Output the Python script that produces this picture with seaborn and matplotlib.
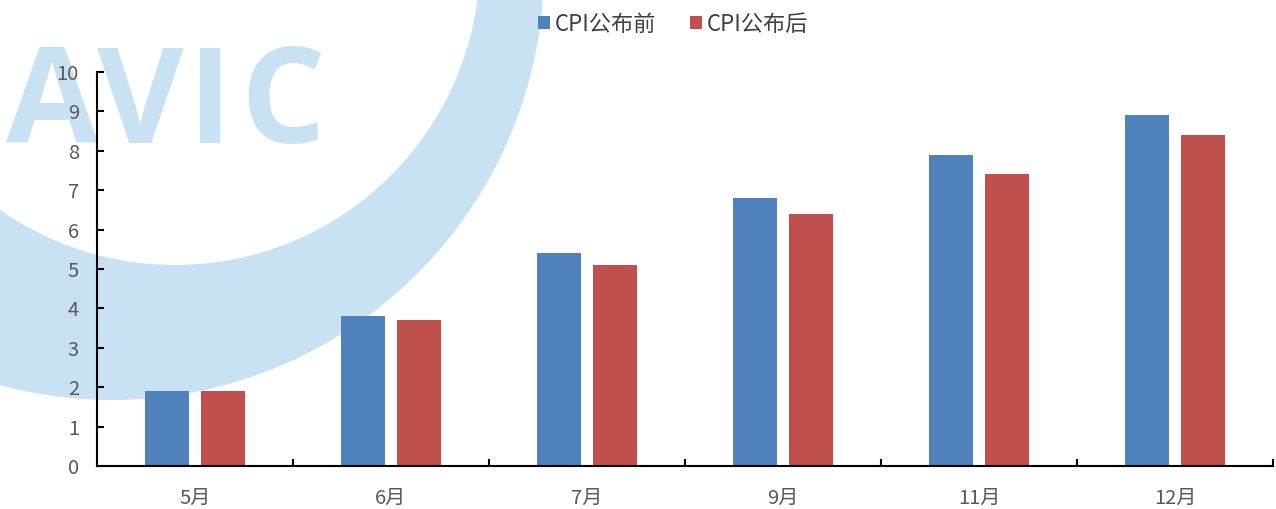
import matplotlib
matplotlib.use("Agg")
import matplotlib.pyplot as plt
from matplotlib.patches import Ellipse, Patch
from matplotlib.ticker import FixedLocator, MultipleLocator
import numpy as np
import pandas as pd
import seaborn as sns

# Data
months = ["5月", "6月", "7月", "9月", "11月", "12月"]
cpi_before = [1.9, 3.8, 5.4, 6.8, 7.9, 8.9]
cpi_after = [1.9, 3.7, 5.1, 6.4, 7.4, 8.4]
series_names = ["CPI公布前", "CPI公布后"]
colors = ["#4F81BD", "#C0504D"]

df = pd.DataFrame({
    "month": months * 2,
    "value": cpi_before + cpi_after,
    "series": [series_names[0]] * len(months) + [series_names[1]] * len(months),
})

sns.set_theme(style="white")
plt.rcParams["font.family"] = ["Noto Sans CJK SC", "DejaVu Sans"]

W, H, DPI = 1276, 509, 100
fig = plt.figure(figsize=(W / DPI, H / DPI), dpi=DPI)
fig.patch.set_facecolor("white")

# Background logo: crescent swoosh plus lettering
wm = "#C9E2F3"
def px_ellipse(cx, cy, r, color, z):
    return Ellipse((cx / W, 1 - cy / H), 2 * r / W, 2 * r / H,
                   transform=fig.transFigure, facecolor=color,
                   edgecolor="none", zorder=z)
fig.patches.append(px_ellipse(112, -32, 432, wm, -3))
fig.patches.append(px_ellipse(175, -40, 305, "white", -2))
for ch, xc in zip("AVIC", [52, 140, 210, 283]):
    fig.text(xc / W, 1 - 143 / H, ch, ha="center", va="baseline",
             fontsize=96, fontweight="bold", color=wm,
             family="Open Sans", zorder=-1)

ax = fig.add_axes([97 / W, 1 - 466 / H, (1273 - 97) / W, (466 - 72) / H])
ax.set_facecolor("none")

sns.barplot(data=df, x="month", y="value", hue="series", order=months,
            hue_order=series_names, palette=colors, width=0.571, gap=0.216,
            saturation=1, legend=False, ax=ax, edgecolor="none")

ax.set_xlim(-0.5, len(months) - 0.5)
ax.set_ylim(0, 10)
ax.yaxis.set_major_locator(MultipleLocator(1))
ax.set_xlabel("")
ax.set_ylabel("")

for side in ["top", "right"]:
    ax.spines[side].set_visible(False)
for side in ["left", "bottom"]:
    ax.spines[side].set_color("black")
    ax.spines[side].set_linewidth(1.5)

ax.tick_params(axis="y", which="major", direction="in", length=5, width=1.5,
               color="black", left=True, labelsize=14.5, labelcolor="#595959",
               pad=13)
ax.tick_params(axis="x", which="major", length=0, labelsize=14.5,
               labelcolor="#595959", pad=16)
ax.xaxis.set_minor_locator(FixedLocator(np.arange(0.5, len(months), 1.0)))
ax.tick_params(axis="x", which="minor", direction="in", length=5, width=1.5,
               color="black", bottom=True)

handles = [Patch(facecolor=c, edgecolor="none") for c in colors]
fig.legend(handles, series_names, loc="center", ncol=2,
           bbox_to_anchor=(673 / W, 1 - 24 / H), frameon=False,
           fontsize=16, labelcolor="#404040", handlelength=0.55,
           handleheight=0.55, handletextpad=0.2, columnspacing=1.5)

fig.savefig("out.png", dpi=DPI, facecolor="white")
